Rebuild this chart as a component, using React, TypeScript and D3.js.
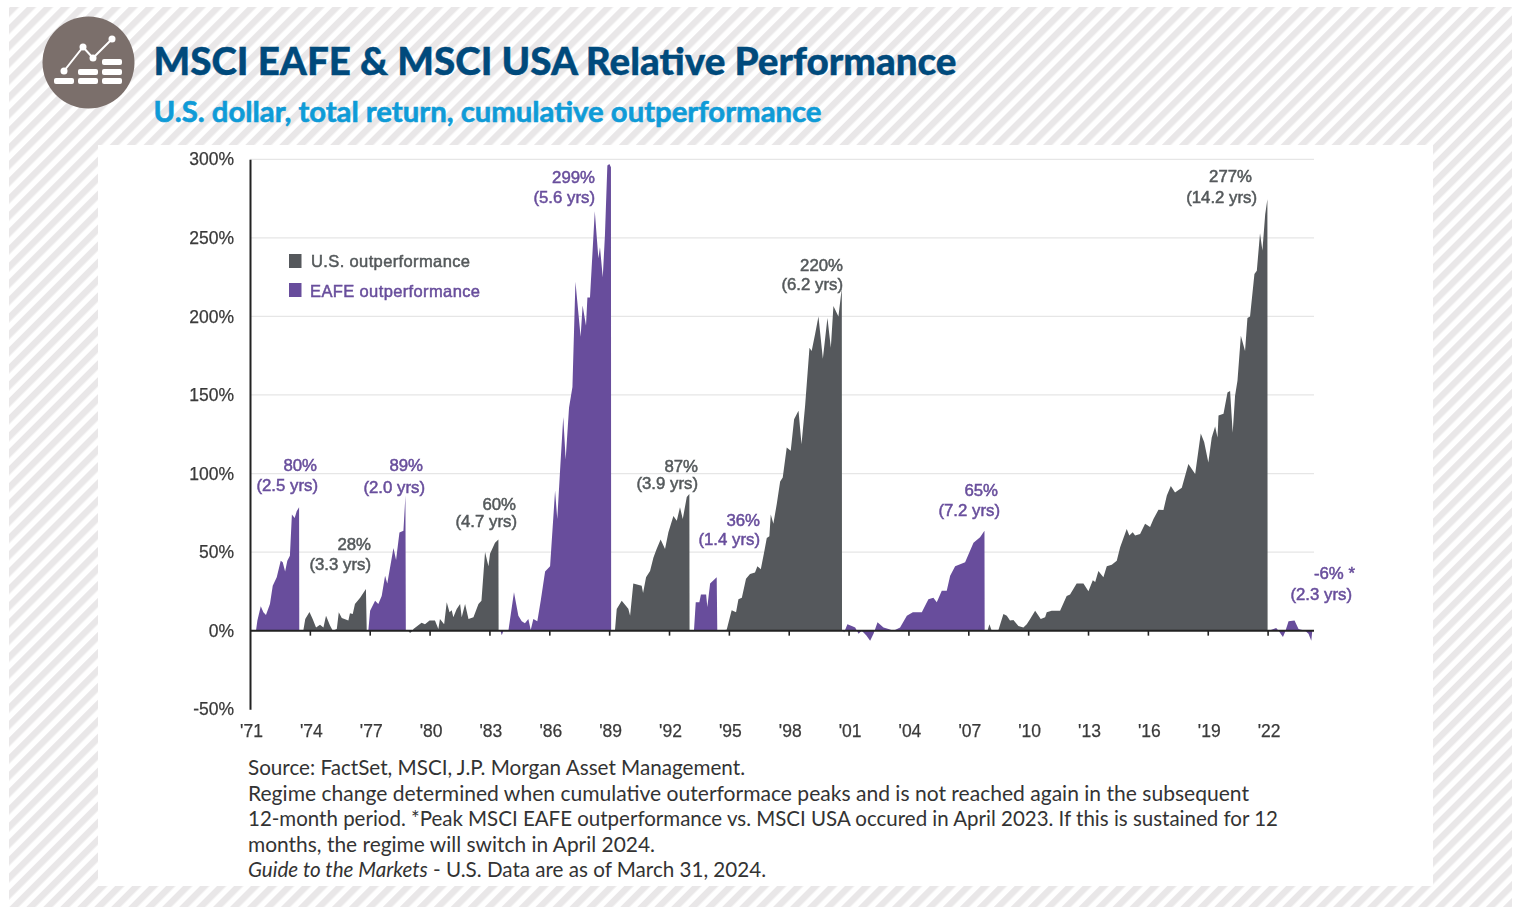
import { useEffect, useRef } from 'react';
import * as d3 from 'd3';

type Pt = [number, number];

// [year, cumulative outperformance %]
const eafe71: Pt[] = [[1971.3,0],[1971.37,6.4],[1971.54,15.5],[1971.67,11.7],[1971.8,10],[1972,17],[1972.14,28.6],[1972.34,34],[1972.54,44.5],[1972.64,43.5],[1972.76,37.7],[1972.87,44.5],[1973,47.7],[1973.1,74],[1973.24,71.7],[1973.34,76],[1973.46,78.5],[1973.47,0]];
const us73: Pt[] = [[1973.67,0],[1973.77,7.4],[1973.98,11.9],[1974.14,7.4],[1974.31,2],[1974.51,3.8],[1974.68,2],[1974.81,9.5],[1975.01,3.2],[1975.15,0],[1975.35,1],[1975.45,11.7],[1975.6,8],[1975.93,6.4],[1976.01,11],[1976.15,10.6],[1976.26,17],[1976.52,21],[1976.81,26.5],[1976.85,0]];
const eafe76: Pt[] = [[1976.93,0],[1977.02,12.7],[1977.27,19],[1977.43,17],[1977.6,22],[1977.77,35],[1977.88,30],[1978.19,52.6],[1978.32,45],[1978.49,62.5],[1978.69,63.6],[1978.79,86],[1978.81,0]];
const us79: Pt[] = [[1978.93,0],[1979.02,-1.5],[1979.15,0],[1979.19,1],[1979.6,5],[1979.77,4],[1980,6.4],[1980.27,6.4],[1980.44,1],[1980.52,7.4],[1980.73,4],[1980.86,18],[1981,11.7],[1981.11,13],[1981.19,8.5],[1981.36,13.8],[1981.53,17],[1981.61,8.5],[1981.78,17],[1981.95,7.4],[1982.2,8.5],[1982.45,17],[1982.6,19],[1982.78,50],[1982.95,41],[1983.03,49],[1983.28,56],[1983.45,58],[1983.46,0]];
const eafe83: Pt[] = [[1983.55,0],[1983.62,-3],[1983.7,0],[1983.95,0],[1984.23,24.4],[1984.45,9.5],[1984.62,6],[1984.78,4.7],[1984.95,7.4],[1985.07,0.4],[1985.2,7.4],[1985.4,6],[1985.57,19],[1985.79,37.7],[1986.04,41],[1986.29,89],[1986.4,71],[1986.54,102],[1986.7,136],[1986.82,109],[1986.99,142],[1987.16,155],[1987.31,222],[1987.57,187],[1987.67,207],[1987.84,194],[1987.91,212],[1988.04,212],[1988.28,267],[1988.46,237],[1988.54,244],[1988.68,225],[1988.79,252],[1988.91,296],[1989.01,297],[1989.09,295],[1989.1,0]];
const us89: Pt[] = [[1989.29,0],[1989.38,13.8],[1989.63,19],[1989.96,14],[1990.05,9.5],[1990.21,30],[1990.63,28.6],[1990.7,24],[1990.85,34],[1991.05,38],[1991.22,46.6],[1991.38,52],[1991.58,58],[1991.8,52],[1991.97,62.6],[1992.22,73],[1992.39,70],[1992.55,78.5],[1992.69,71],[1992.89,85],[1993.02,87],[1993.03,0]];
const eafe93: Pt[] = [[1993.25,0],[1993.34,18],[1993.52,18],[1993.6,23],[1993.86,23],[1993.92,15],[1994.06,30],[1994.39,34],[1994.42,0]];
const us94: Pt[] = [[1994.56,0],[1994.89,0.5],[1995.14,13],[1995.36,11.7],[1995.48,20],[1995.65,21],[1995.86,33],[1996.06,36],[1996.31,37],[1996.43,41],[1996.6,39],[1996.77,50],[1996.9,59],[1997.03,60],[1997.1,74],[1997.23,68],[1997.4,80.6],[1997.57,95],[1997.7,97.5],[1997.9,116.6],[1998.1,114.5],[1998.27,134.6],[1998.49,140],[1998.64,118.7],[1998.82,143],[1999.04,180],[1999.15,178],[1999.32,188.7],[1999.49,200],[1999.71,173],[1999.94,199],[2000.11,180],[2000.24,206.7],[2000.49,200],[2000.66,218],[2000.67,0]];
const eafe00: Pt[] = [[2000.72,0],[2000.78,-1],[2000.94,4],[2001.16,3],[2001.33,2],[2001.5,-2],[2001.66,0],[2001.88,-3],[2002.08,-6.4],[2002.25,-2],[2002.45,5.3],[2002.75,2],[2003,1],[2003.25,0],[2003.58,2],[2003.92,9.5],[2004.22,11.7],[2004.67,11.7],[2005,20],[2005.25,21],[2005.42,18],[2005.67,25.4],[2005.92,25.4],[2006.09,35],[2006.34,41],[2006.84,43.5],[2007.26,56],[2007.59,59.4],[2007.81,63.6],[2007.82,0]];
const us08: Pt[] = [[2007.96,0],[2008.06,4],[2008.16,0.4],[2008.51,0.4],[2008.76,10.6],[2008.93,9.5],[2009.09,6.4],[2009.26,6.8],[2009.51,3],[2009.76,2],[2009.93,4],[2010.1,7.4],[2010.35,12.7],[2010.63,7.4],[2010.85,8.5],[2010.93,11.7],[2011.18,12.7],[2011.6,12.7],[2011.93,22],[2012.1,23],[2012.43,30],[2012.77,30],[2013.02,25],[2013.24,32],[2013.36,31],[2013.52,38],[2013.77,34],[2013.94,41],[2014.19,42],[2014.44,44.5],[2014.61,53],[2014.94,64.7],[2015.07,60.5],[2015.24,62.6],[2015.36,60.5],[2015.61,61.5],[2015.86,68],[2016.11,66],[2016.28,71],[2016.53,77],[2016.78,76.8],[2016.95,86],[2017.15,92],[2017.36,88],[2017.7,91],[2018.03,106],[2018.37,99.7],[2018.65,125.5],[2018.82,120],[2019.03,107],[2019.2,123],[2019.37,130],[2019.49,123],[2019.54,137],[2019.79,138],[2019.99,151.6],[2020.12,152.6],[2020.25,126],[2020.37,149.5],[2020.49,159],[2020.66,187.7],[2020.87,178],[2020.99,199],[2021.12,200],[2021.34,227],[2021.46,229],[2021.62,253],[2021.74,242],[2021.88,265],[2021.99,274.6],[2022,0]];
const eafe22: Pt[] = [[2022.05,0],[2022.13,0.3],[2022.43,1.7],[2022.55,0],[2022.77,-4],[2022.88,-0.7],[2023.05,6],[2023.35,6.4],[2023.55,1],[2023.88,0],[2024.05,-2],[2024.19,-6.4],[2024.24,0]];

const usRegimes = [us73, us79, us89, us94, us08];
const eafeRegimes = [eafe71, eafe76, eafe83, eafe93, eafe00, eafe22];

const yTicks = [-50, 0, 50, 100, 150, 200, 250, 300];
const xTicks = d3.range(1971, 2023, 3);
const legendLabels = ['U.S. outperformance', 'EAFE outperformance'];

const US = '#54595b';
const EAFE = '#684e9c';

// callouts: [pct, duration, series]
const callouts: [string, string, string][] = [
  ['80%', '(2.5 yrs)', EAFE], ['28%', '(3.3 yrs)', US], ['89%', '(2.0 yrs)', EAFE], ['60%', '(4.7 yrs)', US],
  ['299%', '(5.6 yrs)', EAFE], ['87%', '(3.9 yrs)', US], ['36%', '(1.4 yrs)', EAFE], ['220%', '(6.2 yrs)', US],
  ['65%', '(7.2 yrs)', EAFE], ['277%', '(14.2 yrs)', US], ['-6% *', '(2.3 yrs)', EAFE],
];
// right edge of each callout's two lines and their mid heights
const calloutPos = [
  [317, 318, 465, 485], [371, 371, 544, 564], [423, 425, 465, 487], [516, 517, 504, 521],
  [595, 595, 177, 197], [698, 698, 466, 483], [760, 760, 520, 539], [843, 843, 265, 284],
  [998, 1000, 490, 510], [1252, 1257, 176, 197], [1355, 1352, 573, 594],
];

const footer = [
  'Source: FactSet, MSCI, J.P. Morgan Asset Management.',
  'Regime change determined when cumulative outerformace peaks and is not reached again in the subsequent',
  '12-month period. *Peak MSCI EAFE outperformance vs. MSCI USA occured in April 2023. If this is sustained for 12',
  'months, the regime will switch in April 2024.',
];
const footerWidths = [497, 1001, 1030, 407];

export default function App() {
  const chartRef = useRef<SVGGElement>(null);

  useEffect(() => {
    const g = d3.select(chartRef.current);
    g.selectAll('*').remove();

    const x = d3.scaleLinear().domain([1971, 2022]).range([250, 1267.6]);
    const y = d3.scaleLinear().domain([-50, 300]).range([709.2, 159.3]);
    const font = '"Liberation Sans", Arial, sans-serif';

    // Grid lines
    g.append('g')
      .selectAll('line')
      .data(yTicks.filter(d => d !== -50 && d !== 0))
      .join('line')
      .attr('x1', 250).attr('x2', 1314)
      .attr('y1', d => y(d)).attr('y2', d => y(d))
      .attr('stroke', '#e6e6e6')
      .attr('stroke-width', 1.2);

    // Areas
    const area = d3.area<Pt>()
      .x(d => x(d[0]))
      .y0(y(0))
      .y1(d => y(d[1]));

    g.append('g').selectAll('path').data(usRegimes).join('path')
      .attr('d', area).attr('fill', US);
    g.append('g').selectAll('path').data(eafeRegimes).join('path')
      .attr('d', area).attr('fill', EAFE);

    // Y axis
    const yAxis = g.append('g')
      .attr('transform', 'translate(250,0)')
      .call(d3.axisLeft(y).tickValues(yTicks).tickSize(0).tickPadding(16).tickFormat(d => `${d}%`));
    yAxis.select('.domain').attr('stroke', '#222').attr('stroke-width', 2);

    // Zero line with ticks
    const zero = g.append('g')
      .attr('transform', `translate(0,${y(0)})`)
      .call(d3.axisBottom(x).tickValues(xTicks.slice(1)).tickSize(5).tickFormat(() => ''));
    zero.select('.domain').remove();
    zero.selectAll('line').attr('stroke', '#222').attr('stroke-width', 1.6);
    g.append('line')
      .attr('x1', 250).attr('x2', 1314)
      .attr('y1', y(0)).attr('y2', y(0))
      .attr('stroke', '#222').attr('stroke-width', 2);

    // X labels
    const xLabels = g.append('g')
      .attr('transform', 'translate(1,719)')
      .call(d3.axisBottom(x).tickValues(xTicks).tickSize(0).tickPadding(6).tickFormat(d => `'${String(d).slice(2)}`));
    xLabels.select('.domain').remove();

    g.selectAll('.tick text')
      .attr('fill', '#3a3a3a')
      .attr('stroke', '#3a3a3a')
      .attr('stroke-width', 0.25)
      .attr('font-family', font)
      .attr('font-size', 17.5);

    // Legend
    const legend = g.append('g');
    legendLabels.forEach((label, i) => {
      const top = i === 0 ? 254 : 283;
      legend.append('rect')
        .attr('x', 289).attr('y', top).attr('width', 12.5).attr('height', 14)
        .attr('fill', i === 0 ? US : EAFE);
      legend.append('text')
        .attr('x', i === 0 ? 311 : 310).attr('y', i === 0 ? 261 : 291)
        .attr('dy', '0.35em')
        .attr('fill', i === 0 ? US : EAFE)
        .attr('font-family', font)
        .attr('font-size', 16.5)
        .attr('stroke', i === 0 ? US : EAFE)
        .attr('stroke-width', 0.5)
        .attr('textLength', i === 0 ? 159 : 170)
        .text(label);
    });

    // Callouts
    callouts.forEach(([pct, dur, color], i) => {
      const [x1, x2, y1, y2] = calloutPos[i];
      [[pct, x1, y1], [dur, x2, y2]].forEach(([t, tx, ty]) => {
        g.append('text')
          .attr('x', tx as number).attr('y', ty as number)
          .attr('dy', '0.35em')
          .attr('text-anchor', 'end')
          .attr('fill', color)
          .attr('stroke', color)
          .attr('stroke-width', 0.5)
          .attr('font-family', font)
          .attr('font-size', 16.8)
          .text(t as string);
      });
    });
  }, []);

  const bodyFont = 'Lato, "Open Sans", sans-serif';

  return (
    <svg width={1518} height={909} style={{ position: 'absolute', left: 0, top: 0, display: 'block' }}>
      <defs>
        <pattern id="stripes" width={12} height={12} patternUnits="userSpaceOnUse" patternTransform="rotate(45)">
          <rect width={12} height={12} fill="#fff" />
          <rect width={6.5} height={12} fill="#e9e7e8" />
        </pattern>
        <filter id="soft" x="0" y="0" width="100%" height="100%">
          <feGaussianBlur stdDeviation="0.5" />
        </filter>
      </defs>
      <rect width={1518} height={909} fill="#fff" />
      <rect x={9} y={7} width={1503} height={900} fill="url(#stripes)" />
      <rect x={98} y={145} width={1335} height={741} fill="#fff" />

      {/* Icon */}
      <circle cx={88.5} cy={62.5} r={46} fill="#7b6f6b" />
      <g fill="#fff">
        <polyline points="64,71 83,47 93,58 112,39" fill="none" stroke="#fff" strokeWidth={2} />
        <circle cx={64} cy={71} r={3.5} />
        <circle cx={83} cy={47} r={3.5} />
        <circle cx={93} cy={58} r={3.5} />
        <circle cx={112} cy={39} r={3.5} />
        <rect x={54} y={78} width={20} height={6} rx={2} />
        <rect x={78} y={78} width={20} height={6} rx={2} />
        <rect x={102} y={78} width={20} height={6} rx={2} />
        <rect x={78} y={69} width={20} height={6} rx={2} />
        <rect x={102} y={69} width={20} height={6} rx={2} />
        <rect x={102} y={59} width={20} height={6} rx={2} />
      </g>

      <text x={153.5} y={75} fontFamily={bodyFont} fontWeight={900} fontSize={38} fill="#004a7c" stroke="#004a7c" strokeWidth={0.4}
        textLength={803} lengthAdjust="spacingAndGlyphs">MSCI EAFE &amp; MSCI USA Relative Performance</text>
      <text x={153.5} y={122} fontFamily={bodyFont} fontWeight={700} fontSize={29} fill="#0f9bd7" stroke="#0f9bd7" strokeWidth={0.6}
        textLength={668} lengthAdjust="spacingAndGlyphs">U.S. dollar, total return, cumulative outperformance</text>

      <g ref={chartRef} filter="url(#soft)" />

      <g fontFamily={bodyFont} fontSize={21} fill="#333">
        {footer.map((line, i) => (
          <text key={i} x={248} y={775 + i * 25.5} textLength={footerWidths[i]} lengthAdjust="spacingAndGlyphs">{line}</text>
        ))}
        <text x={248} y={877} textLength={518} lengthAdjust="spacingAndGlyphs">
          <tspan fontStyle="italic">Guide to the Markets</tspan> - U.S. Data are as of March 31, 2024.
        </text>
      </g>
    </svg>
  );
}
